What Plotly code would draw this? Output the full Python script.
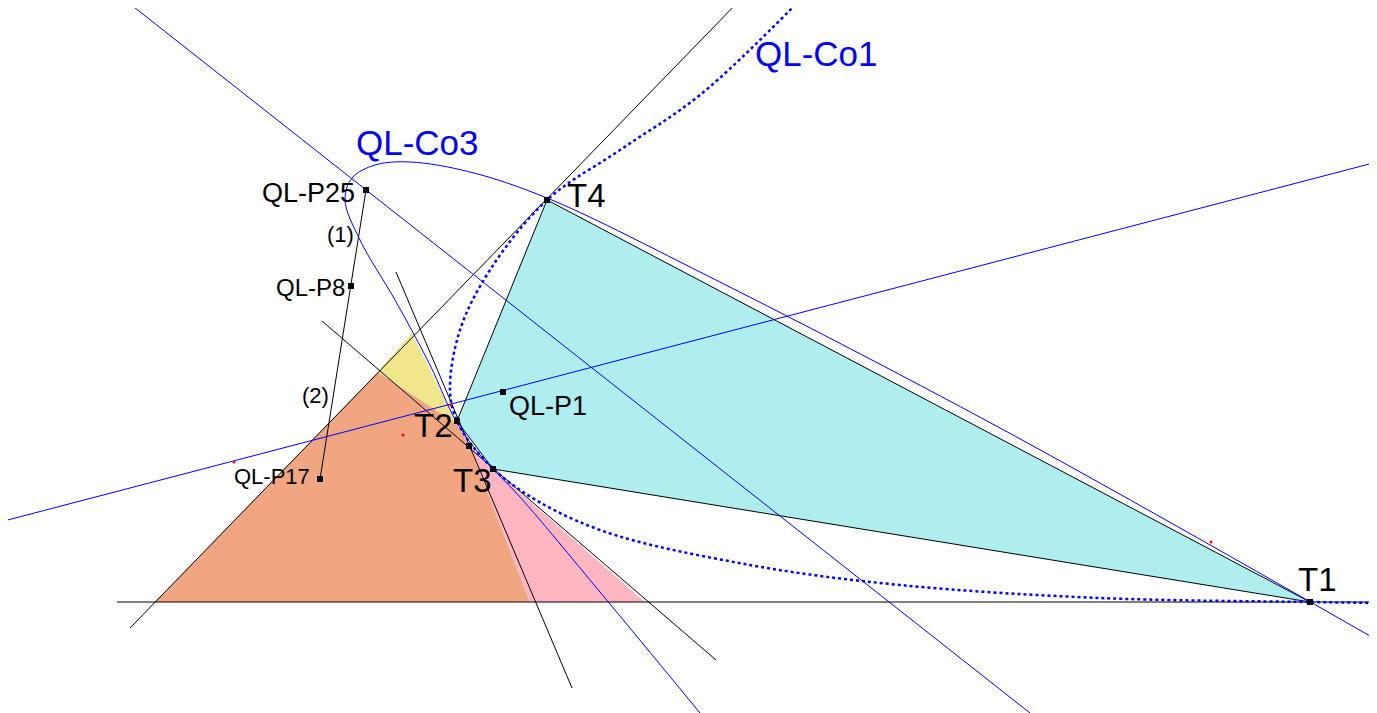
import plotly.graph_objects as go

# diagram coordinates (pixel-like units, y down)
cyan_x = [547, 1310, 493, 457, 547]; cyan_y = [200, 602, 469, 421, 200]
orange_x = [155, 378, 457, 470, 530, 155]; orange_y = [602, 372, 424, 447, 602, 602]
yellow_x = [378, 412, 457, 378]; yellow_y = [372, 333, 424, 372]
pink_x = [470, 530, 645, 493, 470]; pink_y = [447, 602, 602, 469, 447]

black_lines = [([130, 740], [628, 0]), ([396, 572], [272, 688]), ([322, 716], [321, 660]),
               ([117, 1377], [602, 602]), ([366, 320], [190, 479])]
blue_lines = [([0, 1377], [522, 162]), ([125, 1030], [0, 713])]

co1_x = [800, 700, 620, 547, 490, 460, 450, 457, 480, 520, 600, 750, 900, 1100, 1310, 1377]
co1_y = [0, 95, 150, 200, 270, 330, 390, 421, 455, 490, 530, 565, 585, 598, 602, 603]
co3_x = [700, 600, 520, 480, 456, 430, 395, 360, 345, 352, 375, 410, 470, 547, 700, 1000, 1377]
co3_y = [713, 592, 497, 455, 421, 365, 300, 240, 200, 178, 165, 162, 172, 198, 272, 428, 640]

pt_x = [1310, 457, 493, 547, 503, 366, 351, 320, 469]
pt_y = [602, 421, 469, 200, 392, 190, 286, 479, 446]
red_x = [403, 1211, 234, 451]; red_y = [435, 542, 462, 405]

fig = go.Figure()
for xs, ys, c in [(cyan_x, cyan_y, "#AFEEEE"), (orange_x, orange_y, "#F0A680"),
                  (yellow_x, yellow_y, "#F0E68C"), (pink_x, pink_y, "#FFB6C1")]:
    fig.add_trace(go.Scatter(x=xs, y=ys, fill="toself", fillcolor=c, mode="lines",
                             line=dict(width=0), hoverinfo="skip"))
fig.add_trace(go.Scatter(x=cyan_x, y=cyan_y, mode="lines", line=dict(color="black", width=1)))
for xs, ys in black_lines:
    fig.add_trace(go.Scatter(x=xs, y=ys, mode="lines", line=dict(color="black", width=1)))
for xs, ys in blue_lines:
    fig.add_trace(go.Scatter(x=xs, y=ys, mode="lines", line=dict(color="blue", width=1)))
fig.add_trace(go.Scatter(x=co3_x, y=co3_y, mode="lines", line=dict(color="blue", width=1, shape="spline")))
fig.add_trace(go.Scatter(x=co1_x, y=co1_y, mode="lines", line=dict(color="blue", width=2.5, dash="dot", shape="spline")))
fig.add_trace(go.Scatter(x=pt_x, y=pt_y, mode="markers", marker=dict(symbol="square", size=6, color="black")))
fig.add_trace(go.Scatter(x=red_x, y=red_y, mode="markers", marker=dict(size=3, color="red")))

labels = [("T1", 1317, 579, 33, "black"), ("T2", 433, 425, 33, "black"),
          ("T3", 472, 480, 33, "black"), ("T4", 586, 195, 33, "black"),
          ("QL-P1", 548, 406, 27, "black"), ("QL-P25", 308, 193, 27, "black"),
          ("QL-P8", 310, 287, 24, "black"), ("QL-P17", 272, 476, 22, "black"),
          ("(1)", 340, 234, 22, "black"), ("(2)", 315, 395, 22, "black"),
          ("QL-Co1", 816, 53, 35, "blue"), ("QL-Co3", 417, 142, 35, "blue")]
for t, x, y, s, c in labels:
    fig.add_annotation(x=x, y=y, text=t, showarrow=False, font=dict(size=s, color=c, family="Arial"))

fig.update_layout(width=1377, height=713, margin=dict(l=0, r=0, t=0, b=0), showlegend=False,
                  plot_bgcolor="white", paper_bgcolor="white",
                  xaxis=dict(range=[8, 1385], visible=False),
                  yaxis=dict(range=[721, 8], visible=False))
fig.write_html("out.html")
